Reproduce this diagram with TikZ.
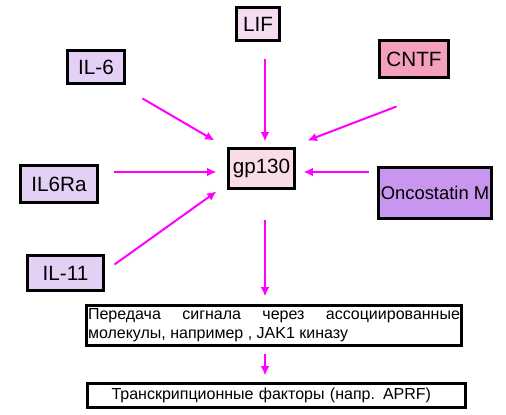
\documentclass[tikz,border=0pt]{standalone}
\usepackage{fontspec}
\setmainfont{Liberation Sans}
\usetikzlibrary{arrows.meta}
\definecolor{lifpink}{HTML}{F4DCF2}
\definecolor{lavend}{HTML}{E4CFF5}
\definecolor{cntfpink}{HTML}{F4A0BC}
\definecolor{gppink}{HTML}{F8DDE7}
\definecolor{oncoviol}{HTML}{C896EE}
\definecolor{sig}{HTML}{FF00FF}

\begin{document}
\begin{tikzpicture}[x=0.75pt,y=-0.75pt,
 box/.style={draw,line width=2.25pt,inner sep=0pt,font=\fontsize{15.5}{18}\selectfont},
 arr/.style={draw=sig,line width=1.5pt,-{Latex[length=7pt,width=6.5pt]}}]

  \useasboundingbox (0,0) rectangle (506,414);

  % cytokines
  \node[box,fill=lifpink,minimum width=32.25pt,minimum height=24.75pt] (lif) at (258,24) {LIF};
  \node[box,fill=lavend,minimum width=42.75pt,minimum height=24.75pt] (il6) at (96,67) {IL-6};
  \node[box,fill=cntfpink,minimum width=51.75pt,minimum height=27.75pt] (cntf) at (414,59) {CNTF};
  \node[box,fill=gppink,minimum width=49.5pt,minimum height=30pt] (gp) at (261.5,168.5) {gp130};
  \node[box,fill=lavend,minimum width=57.75pt,minimum height=27.75pt] (il6ra) at (59,184) {IL6Ra};
  \node[box,fill=oncoviol,minimum width=84.75pt,minimum height=38.25pt,
   font=\fontsize{13.8}{16}\selectfont] (onco) at (435,193) {Oncostatin M};
  \node[box,fill=lavend,minimum width=57pt,minimum height=26.25pt] (il11) at (65.5,273) {IL-11};

  % signalling
  \node[box,fill=white,minimum width=281.25pt,minimum height=30pt,
   font=\fontsize{12}{14.25}\selectfont] (jak) at (274,325.5)
   {\parbox{279pt}{Передача сигнала через ассоциированные\linebreak
    молекулы, например , JAK1 киназу}};
  \node[box,fill=white,minimum height=18pt,text width=283.5pt,align=left,
   font=\fontsize{12}{15}\selectfont] (tf) at (276.5,395.5)
   {\hspace*{18pt}Транскрипционные факторы (напр. APRF)};

  % arrows
  \draw[arr] ([shift={(7,16.5)}]lif.south) -- ([shift={(3.5,-5.5)}]gp.north);
  \draw[arr] ([shift={(16.5,13.5)}]il6.south east) -- ([shift={(-12.5,-6.5)}]gp.north west);
  \draw[arr] ([shift={(18.5,27.5)}]cntf.south west) -- ([shift={(11.5,-6.5)}]gp.north east);
  \draw[arr] ([shift={(14.5,-12)}]il6ra.east) -- ([shift={(-10.5,3.5)}]gp.west);
  \draw[arr] ([shift={(-8.5,-21)}]onco.west) -- ([shift={(7.5,3.5)}]gp.east);
  \draw[arr] ([shift={(9.5,10.5)}]il11.north east) -- ([shift={(-10.5,1.5)}]gp.south west);
  \draw[arr] ([shift={(3.5,29.5)}]gp.south) -- ([shift={(-9,-7.5)}]jak.north);
  \draw[arr] ([shift={(-9,6.5)}]jak.south) -- ([shift={(-11.5,-6.5)}]tf.north);

\end{tikzpicture}
\end{document}
